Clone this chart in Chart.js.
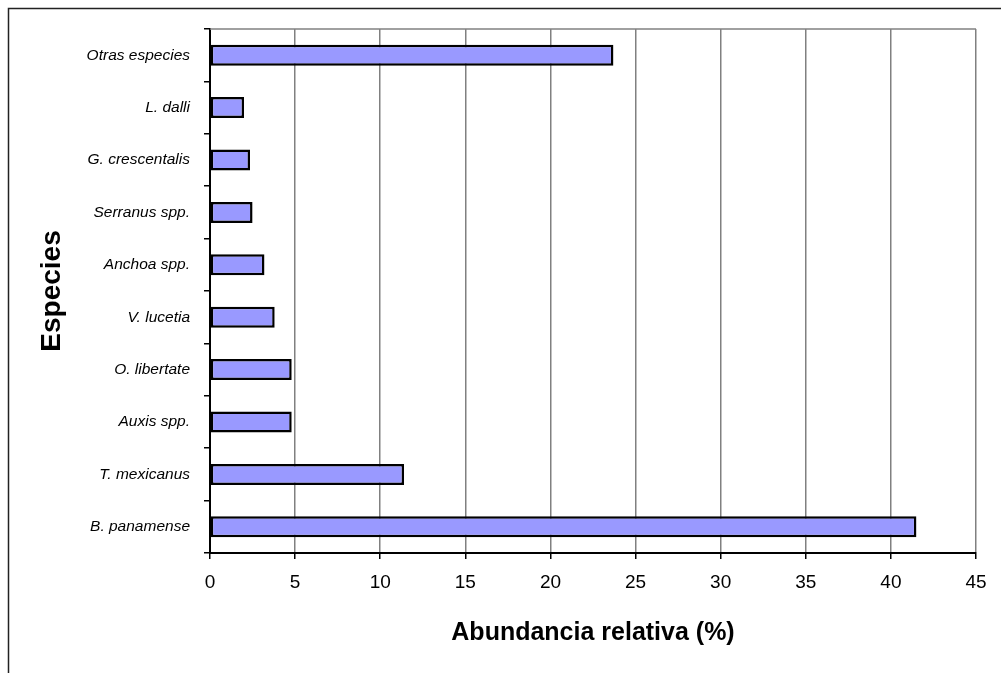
<!DOCTYPE html>
<html lang="es">
<head>
  <meta charset="UTF-8">
  <title>Abundancia relativa por especie</title>
  <style>
    html, body {
      margin: 0;
      padding: 0;
      background: #ffffff;
    }
    #wrap {
      width: 1001px;
      height: 673px;
      position: relative;
    }
  </style>
  <script src="https://cdn.jsdelivr.net/npm/chart.js"></script>
</head>
<body>
  <div id="wrap">
    <canvas id="chart" width="1001" height="673"></canvas>
  </div>

  <script>
    // species, top to bottom as in the figure
    const especies = [
      'Otras especies',
      'L. dalli',
      'G. crescentalis',
      'Serranus spp.',
      'Anchoa spp.',
      'V. lucetia',
      'O. libertate',
      'Auxis spp.',
      'T. mexicanus',
      'B. panamense'
    ];
    // relative abundance (%)
    const abundancia = [23.7, 2.0, 2.35, 2.5, 3.2, 3.8, 4.8, 4.8, 11.4, 41.5];

    const xMin = 0;
    const xMax = 45;
    const xStep = 5;

    const fontFamily = '"Liberation Sans", Arial, sans-serif';

    // outer frame (left + top) and grey top edge of the plot area
    const framePlugin = {
      id: 'frame',
      beforeDatasetsDraw(chart) {
        const { ctx, chartArea } = chart;
        ctx.save();
        ctx.strokeStyle = '#808080';
        ctx.lineWidth = 1.5;
        ctx.beginPath();
        ctx.moveTo(chartArea.left, chartArea.top);
        ctx.lineTo(chartArea.right, chartArea.top);
        ctx.stroke();
        ctx.restore();
      },
      afterDraw(chart) {
        const { ctx, width, height } = chart;
        ctx.save();
        ctx.strokeStyle = '#222222';
        ctx.lineWidth = 1.5;
        ctx.beginPath();
        ctx.moveTo(8.5, height);
        ctx.lineTo(8.5, 8.5);
        ctx.lineTo(width, 8.5);
        ctx.stroke();
        ctx.restore();
      }
    };

    new Chart(document.getElementById('chart'), {
      type: 'bar',
      data: {
        labels: especies,
        datasets: [{
          data: abundancia,
          backgroundColor: '#9999ff',
          borderColor: '#000000',
          borderWidth: 2.5,
          borderSkipped: false,
          categoryPercentage: 1.0,
          barPercentage: 0.4
        }]
      },
      options: {
        indexAxis: 'y',
        responsive: false,
        animation: false,
        layout: {
          padding: { top: 29, right: 25, bottom: 0, left: 0 }
        },
        plugins: {
          legend: { display: false },
          tooltip: { enabled: false }
        },
        scales: {
          x: {
            min: xMin,
            max: xMax,
            afterFit(scale) { scale.height = 120; },
            ticks: {
              stepSize: xStep,
              color: '#000000',
              padding: 12,
              font: { family: fontFamily, size: 19 }
            },
            grid: {
              color: '#808080',
              lineWidth: 1.5,
              tickColor: '#000000',
              tickLength: 6
            },
            border: { color: '#000000', width: 2 },
            title: {
              display: true,
              text: 'Abundancia relativa (%)',
              color: '#000000',
              padding: { top: 0, bottom: 25 },
              font: { family: fontFamily, size: 25, weight: 'bold' }
            }
          },
          y: {
            afterFit(scale) { scale.width = 210; },
            ticks: {
              color: '#000000',
              padding: 14,
              font: { family: fontFamily, size: 15.5, style: 'italic' }
            },
            grid: {
              offset: true,
              drawOnChartArea: false,
              tickColor: '#000000',
              tickLength: 6,
              lineWidth: 1.5
            },
            border: { color: '#000000', width: 2 },
            title: {
              display: true,
              text: 'Especies',
              color: '#000000',
              padding: { top: 35, bottom: 0 },
              font: { family: fontFamily, size: 28, weight: 'bold' }
            }
          }
        }
      },
      plugins: [framePlugin]
    });
  </script>
</body>
</html>
